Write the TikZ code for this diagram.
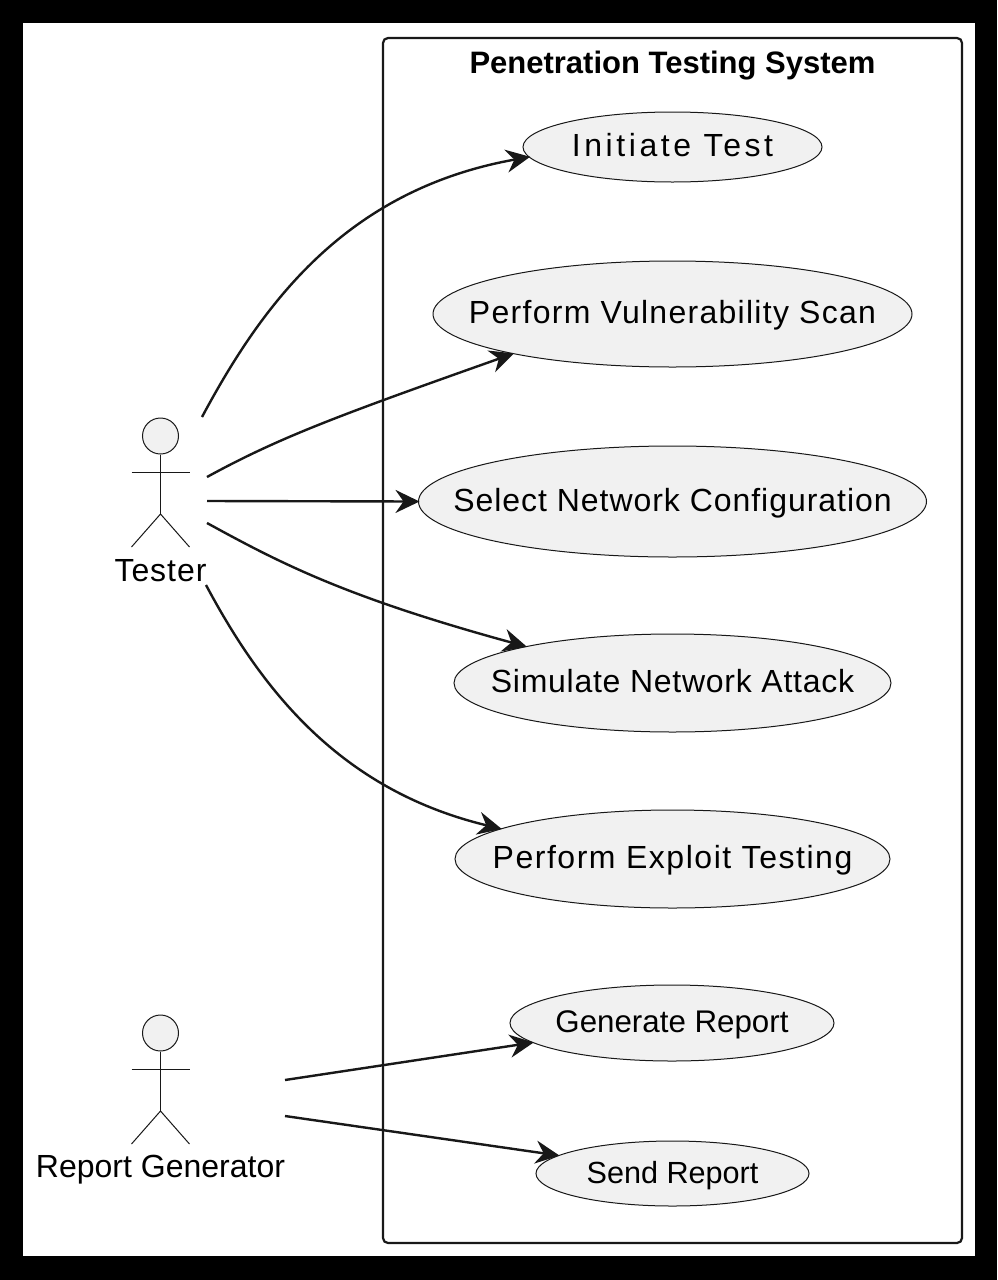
\documentclass[tikz,border=0pt]{standalone}
\usepackage{fontspec}
\setmainfont{Liberation Sans}
\usetikzlibrary{shapes.geometric, arrows.meta}
\definecolor{UseFill}{HTML}{F1F1F1}
\definecolor{UseLine}{HTML}{181818}
\newcommand{\spaced}[2]{\makebox[0pt]{\addfontfeature{LetterSpace=#1}#2}}
\tikzset{
	usecase/.style={draw=UseLine,ellipse,fill=UseFill,line width=1pt,inner sep=0pt,text=black,font=\fontsize{32}{36}\selectfont,text height=23pt,text depth=4pt},
	link/.style={draw=UseLine,line width=2.4pt,shorten >=-1.5pt,-{Stealth[length=24pt,width=23pt,inset=8pt]}},
	actorlabel/.style={inner sep=0pt,font=\fontsize{32}{36}\selectfont,text height=23pt,text depth=7pt},
	stickfig/.pic={
		\node (-head) [circle,draw=UseLine,fill=UseFill,line width=1pt,minimum size=36pt,inner sep=0pt] at (0,0) {};
		\draw[UseLine,line width=1pt] (-head.south) -- (0,78);
		\draw[UseLine,line width=1pt] (-29,36) -- (29,36);
		\draw[UseLine,line width=1pt] (-29,111) -- (0,78) -- (29,111);
	}
}
\begin{document}
\begin{tikzpicture}[x=1pt,y=-1pt]
	\fill[black] (0,0) rectangle (997,1280);
	\fill[white] (23,23) rectangle (975,1256);
	% system box
	\node (system) [draw=UseLine,rounded corners=5pt,line width=2.2pt,minimum width=579pt,minimum height=1205pt,inner sep=0pt] at (672.5,640.5) {};
	\node (title) [inner sep=0pt,font=\bfseries\fontsize{31}{36}\selectfont,text height=23pt,text depth=7pt] at (672.5,65) {Penetration Testing System};
	% use cases
	\node (initiate) [usecase,minimum width=299pt,minimum height=70pt] at (672.5,147) {\spaced{11.2}{Initiate Test}};
	\node (scan) [usecase,minimum width=479pt,minimum height=106pt] at (672.5,314) {\spaced{4}{Perform Vulnerability Scan}};
	\node (config) [usecase,minimum width=508pt,minimum height=111pt] at (672.5,501.5) {\spaced{3}{Select Network Configuration}};
	\node (attack) [usecase,minimum width=437pt,minimum height=98pt] at (672.5,683) {\spaced{2.3}{Simulate Network Attack}};
	\node (exploit) [usecase,minimum width=435pt,minimum height=98pt] at (672.5,859) {\spaced{4.8}{Perform Exploit Testing}};
	\node (generate) [usecase,minimum width=324pt,minimum height=76pt,font=\fontsize{31.3}{36}\selectfont] at (672,1023) {\makebox[0pt]{Generate Report}};
	\node (send) [usecase,minimum width=273pt,minimum height=65pt,font=\fontsize{30.6}{36}\selectfont] at (672.5,1173.5) {\makebox[0pt]{Send Report}};
	% actors
	\pic (tester) at (160.5,436) {stickfig};
	\node (testerlabel) [actorlabel] at (160.5,573) {\spaced{3}{Tester}};
	\pic (reporter) at (160.5,1033) {stickfig};
	\node (reporterlabel) [actorlabel] at (160.5,1169) {Report Generator};
	% free ends
	\coordinate (t1) at (202,417);
	\coordinate (t2) at (207,477);
	\coordinate (t3) at (207,501);
	\coordinate (t4) at (207,523);
	\coordinate (t5) at (206,585);
	\coordinate (r1) at (285,1080);
	\coordinate (r2) at (285,1116);
	% connectors
	\draw[link] (t1) .. controls (262,305) and (345,190) .. (initiate.184.9);
	\draw[link] (t2) .. controls (280,437) and (340,415) .. (scan.194.5);
	\draw[link] (t3) -- (config.west);
	\draw[link] (t4) .. controls (280,563) and (345,597) .. (attack.166);
	\draw[link] (t5) .. controls (262,690) and (340,790) .. (exploit.170.6);
	\draw[link] (r1) -- (generate.188.3);
	\draw[link] (r2) -- (send.171.4);
\end{tikzpicture}
\end{document}
